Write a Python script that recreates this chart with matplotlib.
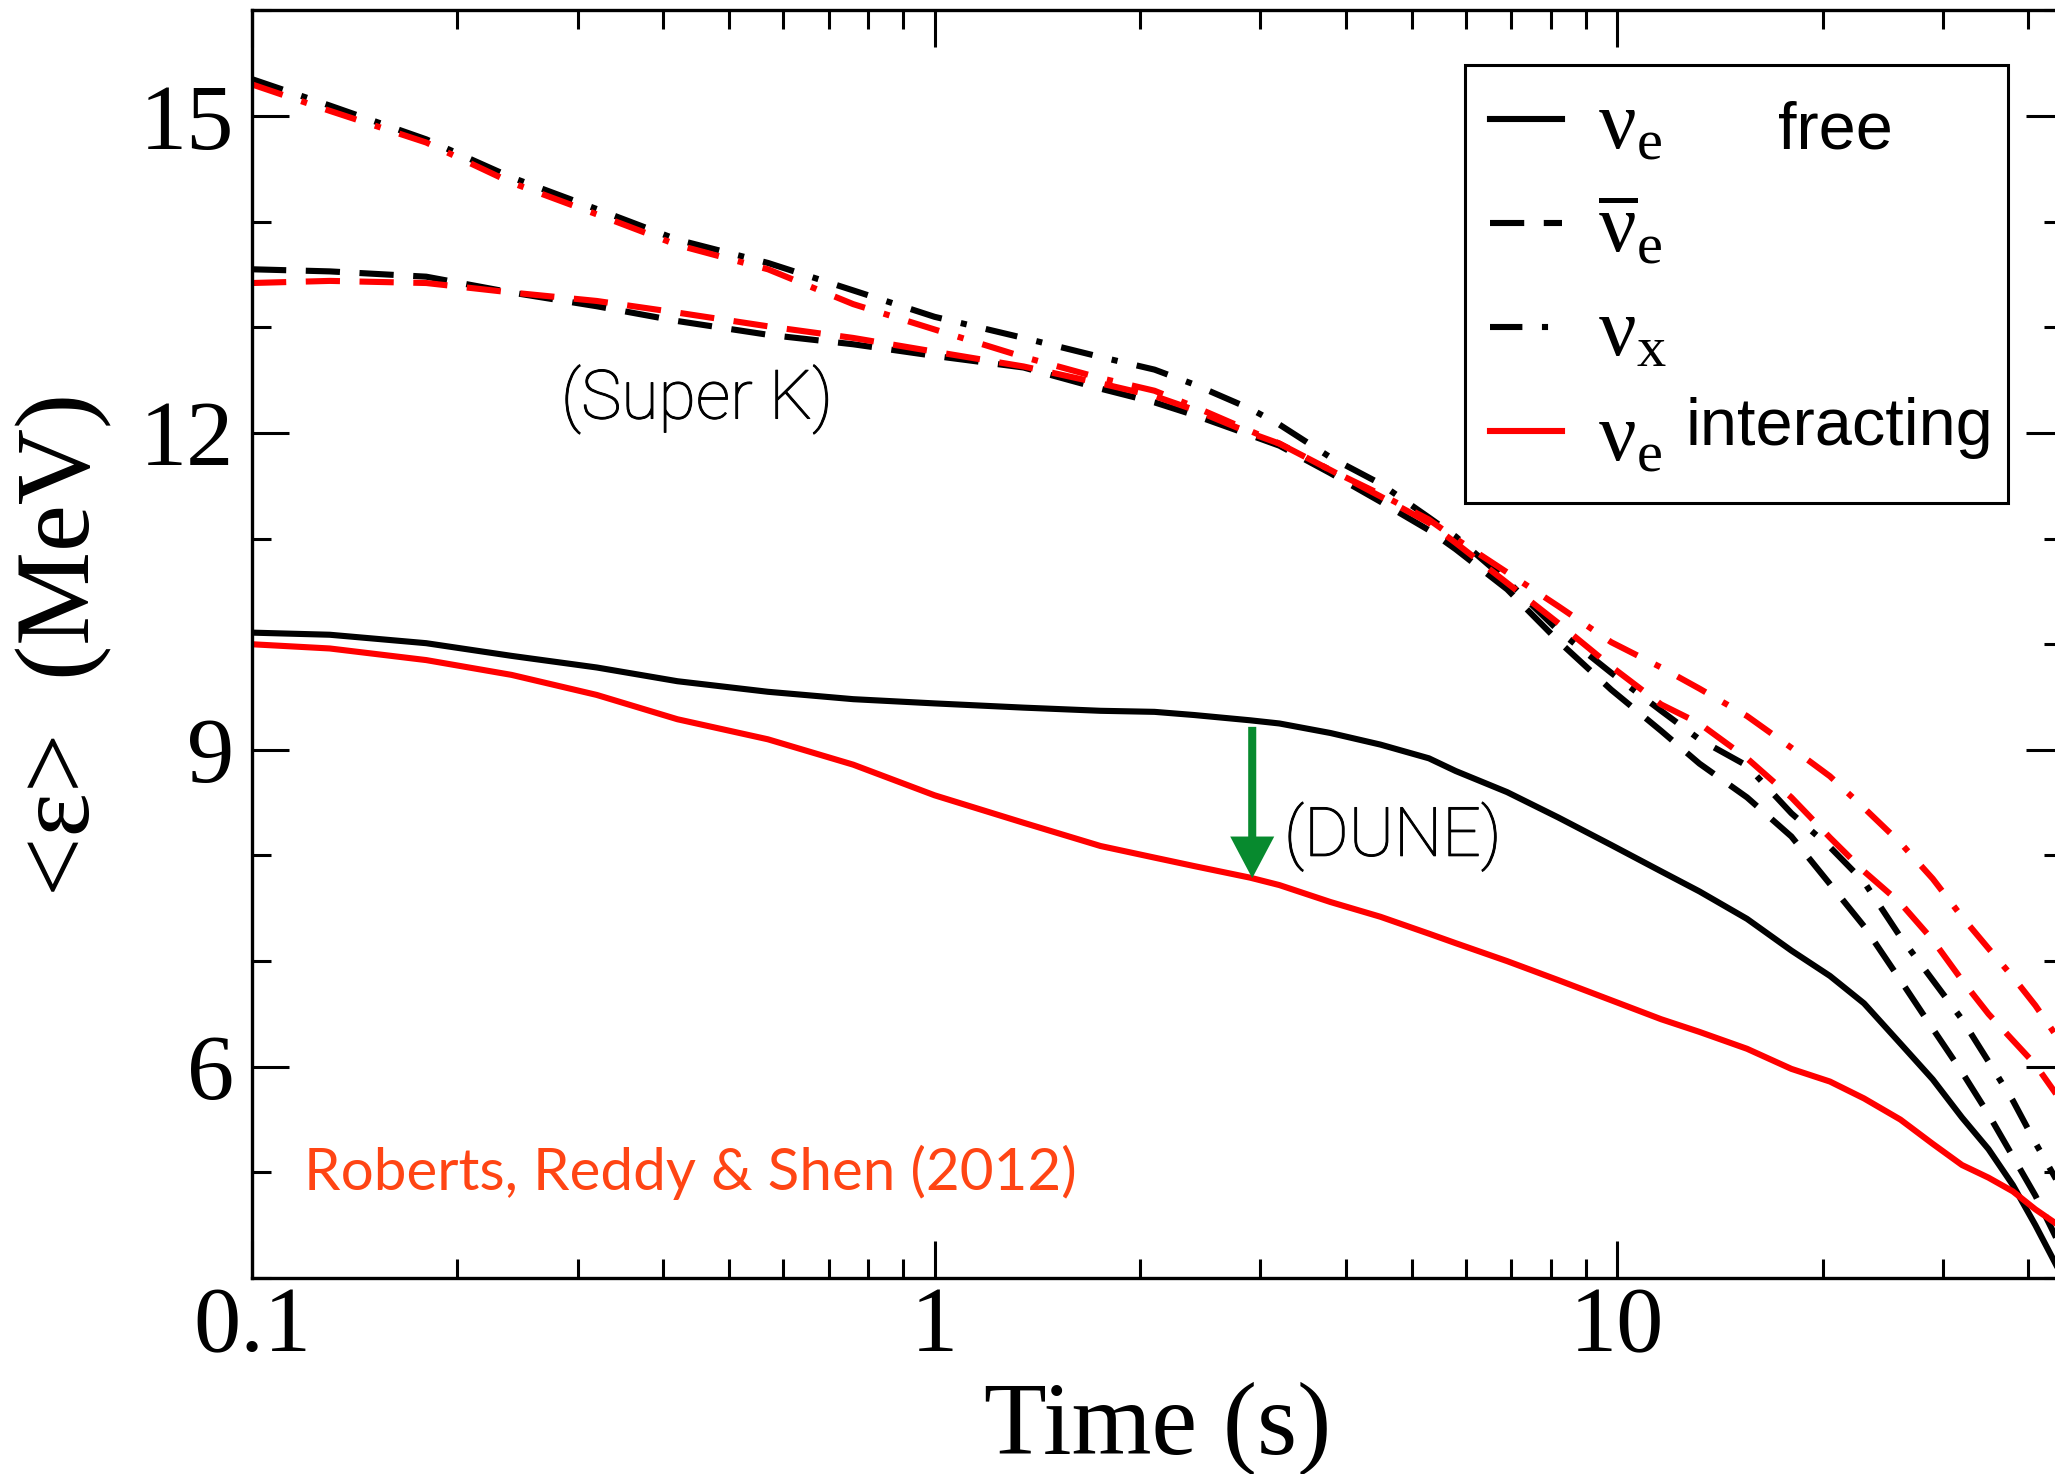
import numpy as np
import matplotlib
matplotlib.use("Agg")
import matplotlib.pyplot as plt
import matplotlib.patheffects as pe
from matplotlib.ticker import MultipleLocator, LogLocator, NullFormatter

plt.rcParams['font.family'] = ['Liberation Serif', 'DejaVu Serif']
plt.rcParams['mathtext.fontset'] = 'custom'
plt.rcParams['mathtext.rm'] = 'Liberation Serif'
plt.rcParams['mathtext.it'] = 'Liberation Serif:italic'
plt.rcParams['mathtext.bf'] = 'Liberation Serif:bold'

# Time after bounce (s)
time_s = [0.1, 0.13, 0.18, 0.24, 0.32, 0.42, 0.57, 0.76, 1.0, 1.35, 1.75, 2.1,
          2.4, 2.9, 3.2, 3.8, 4.5, 5.3, 5.8, 6.9, 8.2, 9.8, 11.6, 13.2, 15.5,
          18, 20.5, 23, 26, 29, 32, 35, 38, 41, 45]

# Mean energies (MeV), free-streaming (no nucleon interactions)
nue_free = [10.11, 10.09, 10.01, 9.89, 9.78, 9.65, 9.55, 9.48, 9.44, 9.40, 9.37,
            9.36, 9.33, 9.28, 9.25, 9.16, 9.05, 8.92, 8.80, 8.60, 8.36, 8.10,
            7.85, 7.66, 7.40, 7.10, 6.86, 6.60, 6.22, 5.88, 5.52, 5.22, 4.88,
            4.50, 4.00]
nubar_free = [13.55, 13.53, 13.48, 13.33, 13.20, 13.06, 12.93, 12.84, 12.73,
              12.62, 12.42, 12.29, 12.17, 11.98, 11.88, 11.62, 11.35, 11.08,
              10.90, 10.52, 10.03, 9.57, 9.18, 8.87, 8.55, 8.18, 7.73, 7.33,
              6.82, 6.36, 5.95, 5.55, 5.15, 4.78, 4.25]
nux_free = [15.35, 15.10, 14.78, 14.42, 14.12, 13.83, 13.61, 13.35, 13.10, 12.90,
            12.72, 12.60, 12.46, 12.23, 12.08, 11.77, 11.52, 11.20, 11.02, 10.60,
            10.13, 9.73, 9.37, 9.10, 8.85, 8.40, 8.08, 7.75, 7.23, 6.82, 6.45,
            6.05, 5.68, 5.28, 4.82]

# Mean energies (MeV), with nucleon interactions
nue_int = [10.00, 9.96, 9.85, 9.71, 9.52, 9.29, 9.10, 8.86, 8.57, 8.31, 8.09,
           7.98, 7.90, 7.79, 7.72, 7.56, 7.42, 7.26, 7.17, 7.00, 6.82, 6.63,
           6.45, 6.33, 6.17, 5.98, 5.86, 5.70, 5.50, 5.27, 5.07, 4.95, 4.82,
           4.65, 4.47]
nubar_int = [13.42, 13.44, 13.42, 13.33, 13.25, 13.14, 13.01, 12.90, 12.77,
             12.63, 12.47, 12.35, 12.22, 12.00, 11.90, 11.65, 11.40, 11.15,
             10.96, 10.58, 10.20, 9.79, 9.43, 9.25, 8.92, 8.55, 8.17, 7.85,
             7.55, 7.20, 6.82, 6.50, 6.25, 6.02, 5.65]
nux_int = [15.30, 15.05, 14.75, 14.37, 14.07, 13.78, 13.55, 13.22, 12.98, 12.72,
           12.52, 12.40, 12.25, 12.02, 11.90, 11.65, 11.42, 11.18, 11.00, 10.68,
           10.36, 10.02, 9.78, 9.58, 9.32, 9.02, 8.75, 8.45, 8.12, 7.78, 7.42,
           7.12, 6.85, 6.58, 6.20]

x_ticks = [0.1, 1, 10]
x_tick_labels = ['0.1', '1', '10']
y_ticks = [6, 9, 12, 15]
legend_labels = [r'$\mathrm{\nu}_\mathrm{e}$', r'$\overline{\mathrm{\nu}}_\mathrm{e}$',
                 r'$\mathrm{\nu}_\mathrm{x}$', r'$\mathrm{\nu}_\mathrm{e}$']
arrow_time = 2.92

fig = plt.figure(figsize=(20.55, 14.74), dpi=100)
ax = fig.add_axes([0.12263, 0.13297, 0.88126, 0.85991])

lw = 4.4
dashed = (0, (5.6, 3.2))
dashdot = (0, (5.3, 3.2, 1.0, 3.2))

h1, = ax.plot(time_s, nue_free, color='black', lw=lw)
h2, = ax.plot(time_s, nubar_free, color='black', lw=lw, ls=dashed)
h3, = ax.plot(time_s, nux_free, color='black', lw=lw, ls=dashdot)
h4, = ax.plot(time_s, nue_int, color='red', lw=lw)
ax.plot(time_s, nubar_int, color='red', lw=lw, ls=dashed)
ax.plot(time_s, nux_int, color='red', lw=lw, ls=dashdot)

ax.set_xscale('log')
ax.set_xlim(0.1, 45)
ax.set_ylim(4, 16)

ax.set_xticks(x_ticks)
ax.set_xticklabels(x_tick_labels)
ax.xaxis.set_minor_locator(LogLocator(base=10, subs=np.arange(2, 10)))
ax.xaxis.set_minor_formatter(NullFormatter())
ax.set_yticks(y_ticks)
ax.yaxis.set_minor_locator(MultipleLocator(1))

ax.tick_params(which='both', direction='in', top=True, right=True, width=2.2)
ax.tick_params(which='major', length=26.6)
ax.tick_params(which='minor', length=13.5)
ax.tick_params(axis='x', which='major', labelsize=68, pad=6)
ax.tick_params(axis='y', which='major', labelsize=68, pad=13)
for sp in ax.spines.values():
    sp.set_linewidth(2.4)

ax.set_xlabel('Time (s)', fontsize=74)
ax.xaxis.set_label_coords(0.5, -0.082)
ax.set_ylabel('<ε>  (MeV)', fontsize=76)
ax.yaxis.set_label_coords(-0.077, 0.5)

# legend box spans a fixed width; the words "free"/"interacting" are set inside it
box_l, box_r, box_t, box_b = 1464.7, 2007.8, 65.0, 496.7
leg = ax.legend([h1, h2, h3, h4], legend_labels, loc='upper left', mode='expand',
                bbox_to_anchor=(box_l / 2055, 1 - box_b / 1474,
                                (box_r - box_l) / 2055, (box_b - box_t) / 1474),
                bbox_transform=fig.transFigure, fontsize=60,
                handlelength=0.87, handletextpad=0.43, borderpad=0.3,
                labelspacing=0.33, borderaxespad=0, fancybox=False,
                framealpha=1, edgecolor='black')
leg.get_frame().set_linewidth(2.2)

ax.text(0.8426, 0.8915, 'free', transform=ax.transAxes, fontsize=48, zorder=6,
        family=['Liberation Sans', 'DejaVu Sans'], va='baseline', ha='left')
ax.text(0.7918, 0.6572, 'interacting', transform=ax.transAxes, fontsize=48, zorder=6,
        family=['Liberation Sans', 'DejaVu Sans'], va='baseline', ha='left')

thin_ink = [pe.withStroke(linewidth=0.7, foreground='black')]
ax.text(0.2835, 12.32, '(Super K)', fontsize=49, family=['Roboto', 'DejaVu Sans'],
        fontweight='light', ha='left', va='center', path_effects=thin_ink)
ax.text(3.25, 8.18, '(DUNE)', fontsize=49, family=['Roboto', 'DejaVu Sans'],
        fontweight='light', ha='left', va='center', path_effects=thin_ink)
ax.text(0.1192, 5.0, 'Roberts, Reddy & Shen (2012)', fontsize=42,
        family=['Lato', 'DejaVu Sans'], color='#FF4514', ha='left', va='center')

log_t = np.log10(time_s)
tip = np.interp(np.log10(arrow_time), log_t, nue_int)
tail = np.interp(np.log10(arrow_time), log_t, nue_free) - 0.06
ax.annotate('', xy=(arrow_time, tip), xytext=(arrow_time, tail),
            arrowprops=dict(facecolor='#078A2E', edgecolor='#078A2E', lw=0,
                            width=5.8, headwidth=31.7, headlength=30, shrink=0))

fig.savefig('out.png', dpi=100)
